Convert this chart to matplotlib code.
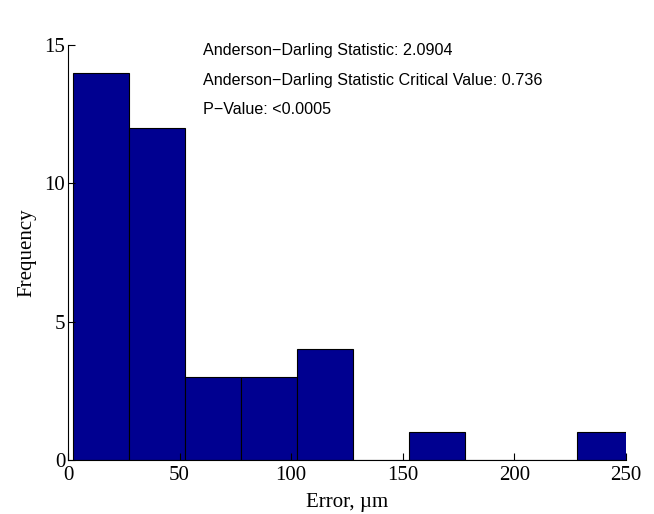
import matplotlib
matplotlib.use("Agg")
import matplotlib.pyplot as plt
import numpy as np

# histogram of measurement error
counts = [14, 12, 3, 3, 4, 0, 1, 0, 0, 1]
bin_start = 2.2
bin_width = 25.1
stats_lines = [
    "Anderson\u2212Darling Statistic: 2.0904",
    "Anderson\u2212Darling Statistic Critical Value: 0.736",
    "P\u2212Value: <0.0005",
]
xticks = [0, 50, 100, 150, 200, 250]
yticks = [0, 5, 10, 15]

plt.rcParams['font.family'] = ['Liberation Serif', 'DejaVu Serif']

fig = plt.figure(figsize=(6.54, 5.14), dpi=100)
ax = fig.add_axes([0.104, 0.105, 0.853, 0.807])

lefts = bin_start + bin_width * np.arange(len(counts))
ax.bar(lefts, counts, width=bin_width, align='edge', color='#000090',
       edgecolor='black', linewidth=0.8, clip_on=True)

ax.set_xlim(0, 250)
ax.set_ylim(0, 15)
ax.set_xticks(xticks)
ax.set_yticks(yticks)
ax.tick_params(direction='in', length=5, width=0.8, labelsize=15)
ax.tick_params(axis='x', pad=4)
ax.tick_params(axis='y', pad=2)
for s in ['top', 'right']:
    ax.spines[s].set_visible(False)
for s in ['left', 'bottom']:
    ax.spines[s].set_linewidth(0.8)

ax.set_xlabel("Error, \u00b5m", fontsize=15, labelpad=6)
ax.set_ylabel("Frequency", fontsize=15, labelpad=6)

for i, line in enumerate(stats_lines):
    ax.text(60.5, 14.8 - 1.07 * i, line, fontsize=11.6, va='center', ha='left',
            family=['Liberation Sans', 'DejaVu Sans'])

fig.savefig("out.png", dpi=100)
